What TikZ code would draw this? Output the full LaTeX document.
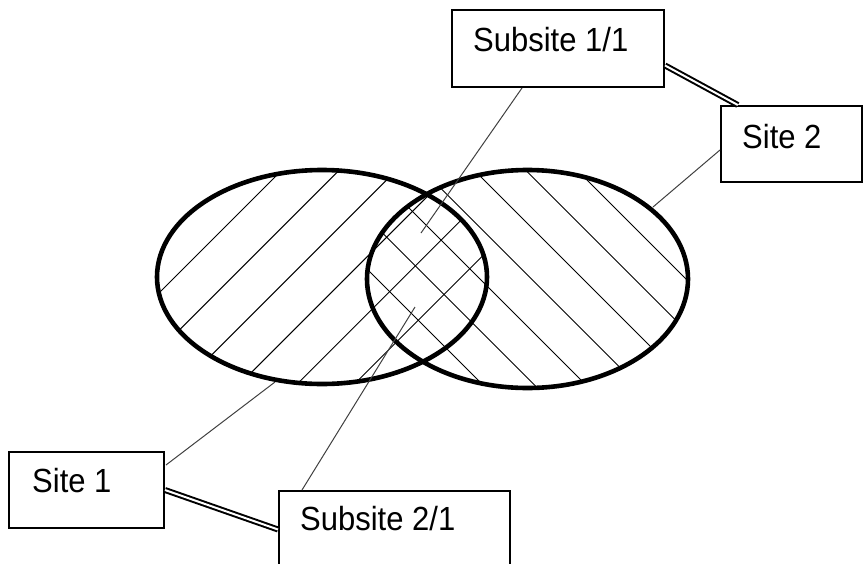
\documentclass[tikz,border=0pt]{standalone}
\usepackage{fontspec}
\usepackage{graphicx}
\setmainfont{Liberation Sans}
\usetikzlibrary{calc}

\newcommand{\tallText}[1]{\scalebox{1}[1.08]{#1}}

\tikzset{
  labelbox/.style={draw, line width=2pt, rectangle, inner sep=0pt},
  labeltext/.style={anchor=base west, inner sep=0pt, font=\fontsize{31}{37}\selectfont},
  setring/.style={line width=4.6pt},
  hatchline/.style={line width=1pt},
  leader/.style={line width=1pt, black!75},
  link/.style={double, double distance=2pt, line width=2pt},
}

\begin{document}
\begin{tikzpicture}[x=1pt, y=-1pt]
  \clip (0,0) rectangle (863,563);

  % the two sets
  \def\setA{(322,277) ellipse [x radius=165, y radius=107]}
  \def\setB{(527.5,279) ellipse [x radius=160.5, y radius=109]}

  % hatching of Site 1
  \begin{scope}
    \clip \setA;
    \foreach \c in {452,509.3,566.6,623.9,681.2,738.5}
      \draw[hatchline] (\c,0) -- ({\c-500},500);
  \end{scope}
  % hatching of Site 2
  \begin{scope}
    \clip \setB;
    \foreach \c in {407,355.5,304,252.5,201,149.5,98}
      \draw[hatchline] (\c,0) -- ({\c+500},500);
  \end{scope}

  \draw[setring] \setA;
  \draw[setring] \setB;

  % label boxes
  \node[labelbox, minimum width=212pt, minimum height=77pt] (s11) at (558,48.5) {};
  \node[labelbox, minimum width=141pt, minimum height=76pt] (s2) at (791.5,144) {};
  \node[labelbox, minimum width=155pt, minimum height=76pt] (s1) at (86.5,490) {};
  \node[labelbox, minimum width=231pt, minimum height=77pt] (s21) at (394.5,529.5) {};

  \node[labeltext] (t11) at (473,51) {\tallText{Subsite 1/1}};
  \node[labeltext] (t2) at (742,148) {\tallText{Site 2}};
  \node[labeltext] (t1) at (32,492) {\tallText{Site 1}};
  \node[labeltext] (t21) at (300,530) {\tallText{Subsite 2/1}};

  % points the leaders point at
  \coordinate (p11) at (421,233);
  \coordinate (p2) at (653,207);
  \coordinate (p1) at (275,382);
  \coordinate (p21) at (415,307);

  \draw[leader] ($(s11.south)+(-36,0)$) -- (p11);
  \draw[leader] ($(s2.west)+(0,6)$) -- (p2);
  \draw[leader] ($(s1.east)+(1,-25)$) -- (p1);
  \draw[leader] ($(s21.north west)+(24,0)$) -- (p21);

  % subsite links
  \draw[link] (s11.-9.9) -- (s2.144.3);
  \draw[link] (s1.east) -- (s21.west);
\end{tikzpicture}
\end{document}
